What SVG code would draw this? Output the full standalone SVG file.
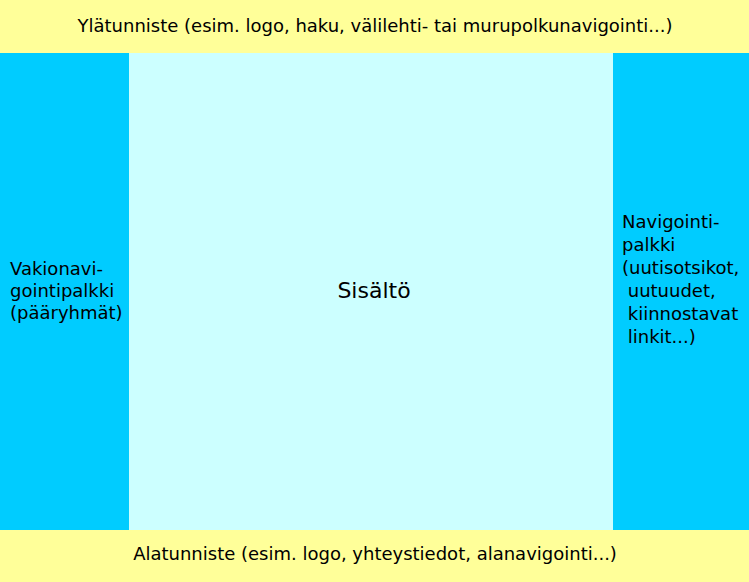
<svg xmlns="http://www.w3.org/2000/svg" width="749" height="582" viewBox="0 0 749 582">
<style>
text{font-family:"DejaVu Sans",sans-serif;fill:#000}
.s{font-size:18px}
.h{font-size:18px}
</style>
<g id="header"><rect x="0" y="0" width="749" height="53" fill="#FFFF99"/><text class="h" x="375" y="32" text-anchor="middle">Ylätunniste (esim. logo, haku, välilehti- tai murupolkunavigointi...)</text></g>
<g id="left"><rect x="0" y="53" width="129" height="477" fill="#00CCFF"/><text class="s" x="10" y="275"><tspan x="10">Vakionavi-</tspan><tspan x="10" dy="22">gointipalkki</tspan><tspan x="10" dy="22">(pääryhmät)</tspan></text></g>
<g id="content"><rect x="129" y="53" width="484" height="477" fill="#CCFFFF"/><text x="374" y="298" font-size="22" text-anchor="middle">Sisältö</text></g>
<g id="right"><rect x="613" y="53" width="136" height="477" fill="#00CCFF"/><text class="s" x="622" y="228" xml:space="preserve"><tspan x="622">Navigointi-</tspan><tspan x="622" dy="23">palkki</tspan><tspan x="622" dy="23">(uutisotsikot,</tspan><tspan x="622" dy="23"> uutuudet,</tspan><tspan x="622" dy="23"> kiinnostavat</tspan><tspan x="622" dy="23"> linkit...)</tspan></text></g>
<g id="footer"><rect x="0" y="530" width="749" height="52" fill="#FFFF99"/><text class="h" x="375" y="560" text-anchor="middle">Alatunniste (esim. logo, yhteystiedot, alanavigointi...)</text></g>
<g id="connectors"/>
</svg>
